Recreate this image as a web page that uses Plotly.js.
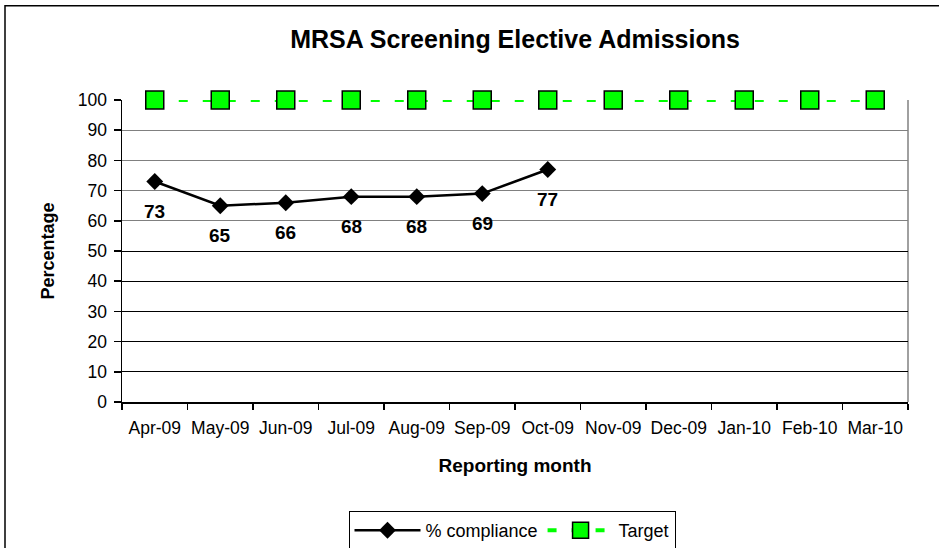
<!DOCTYPE html>
<html>
<head>
<meta charset="utf-8">
<script src="https://cdn.plot.ly/plotly-3.0.1.min.js"></script>
<style>
html,body{margin:0;padding:0;background:#fff;}
#chart{width:939px;height:548px;}
</style>
</head>
<body>
<div id="chart"></div>
<script>
const months = ["Apr-09","May-09","Jun-09","Jul-09","Aug-09","Sep-09","Oct-09","Nov-09","Dec-09","Jan-10","Feb-10","Mar-10"];
const complianceMonths = ["Apr-09","May-09","Jun-09","Jul-09","Aug-09","Sep-09","Oct-09"];
const compliance = [73, 65, 66, 68, 68, 69, 77];
const target = [100,100,100,100,100,100,100,100,100,100,100,100];
const yTicks = [0,10,20,30,40,50,60,70,80,90,100];
const yTicksGray = [60,70,80,90,100];
const yTicksBlack = [10,20,30,40,50];

const FONT = "Arial, 'Liberation Sans', sans-serif";

const traces = [
  {
    x: months, y: target, yaxis: "y2", type: "scatter", mode: "none",
    showlegend: false, hoverinfo: "skip"
  },
  {
    x: months, y: target, yaxis: "y3", type: "scatter", mode: "none",
    showlegend: false, hoverinfo: "skip"
  },
  {
    x: complianceMonths, y: compliance, name: "% compliance",
    type: "scatter", mode: "lines+markers",
    line: {color: "#000000", width: 2.5},
    marker: {symbol: "diamond", size: 13, color: "#000000"},
    cliponaxis: false
  },
  {
    x: months, y: target, name: "Target",
    type: "scatter", mode: "lines+markers",
    line: {color: "#00FF00", width: 4, dash: "9px,15px"},
    marker: {symbol: "square", size: 18, color: "#00FF00", line: {color: "#000000", width: 1.5}},
    cliponaxis: false
  }
];

const annotations = complianceMonths.map((m, i) => ({
  x: m, y: compliance[i], xref: "x", yref: "y",
  text: "<b>" + compliance[i] + "</b>", showarrow: false, yshift: -30,
  font: {family: FONT, size: 19, color: "#000"}
}));

const layout = {
  width: 939, height: 548,
  margin: {l: 122, r: 31, t: 99.5, b: 145.5},
  paper_bgcolor: "#ffffff", plot_bgcolor: "#ffffff",
  font: {family: FONT, size: 17.5, color: "#000"},
  title: {
    text: "<b>MRSA Screening Elective Admissions</b>",
    xref: "paper", yref: "container", x: 0.5, xanchor: "center",
    y: 1 - 39/548, yanchor: "middle",
    font: {family: FONT, size: 25, color: "#000"}
  },
  showlegend: true,
  legend: {
    orientation: "h", xref: "container", yref: "container",
    x: 512/939, xanchor: "center", y: 1 - 511/548, yanchor: "top",
    bordercolor: "#000", borderwidth: 1, bgcolor: "#fff",
    font: {family: FONT, size: 18, color: "#000"},
    itemwidth: 66, traceorder: "normal"
  },
  xaxis: {
    type: "category", categoryarray: months, range: [-0.5, 11.5],
    showgrid: false, showline: true, linecolor: "#000", linewidth: 1.5,
    ticks: "outside", tickson: "boundaries", ticklen: 6, tickcolor: "#000", tickwidth: 1.5,
    ticklabelstandoff: 9, tickangle: 0,
    tickfont: {family: FONT, size: 17.5, color: "#000"},
    zeroline: false,
    title: {text: "<b>Reporting month</b>", font: {family: FONT, size: 19, color: "#000"}, standoff: 22}
  },
  yaxis: {
    range: [0, 100], tickmode: "array", tickvals: yTicks, ticktext: yTicks.map(String),
    showgrid: false, showline: true, linecolor: "#000", linewidth: 1.5,
    ticks: "outside", ticklen: 7, tickcolor: "#000", tickwidth: 1.5,
    tickfont: {family: FONT, size: 17.5, color: "#000"},
    zeroline: false, ticklabelstandoff: 3,
    title: {text: "<b>Percentage</b>", font: {family: FONT, size: 18, color: "#000"}, standoff: 18}
  },
  yaxis2: {
    overlaying: "y", range: [0, 100], tickmode: "array", tickvals: yTicksGray,
    showgrid: true, gridcolor: "#808080", gridwidth: 1,
    showticklabels: false, ticks: "", zeroline: false, showline: false
  },
  yaxis3: {
    overlaying: "y", range: [0, 100], tickmode: "array", tickvals: yTicksBlack,
    showgrid: true, gridcolor: "#000000", gridwidth: 1,
    showticklabels: false, ticks: "", zeroline: false, showline: false
  },
  shapes: [
    {type: "line", xref: "paper", yref: "paper", x0: 1, x1: 1, y0: 0, y1: 1,
     line: {color: "#808080", width: 1.5}, layer: "below"},
    {type: "rect", xref: "paper", yref: "paper",
     x0: -117/786, x1: 1 + 40/786, y0: -200/303, y1: 1 + 94.5/303,
     line: {color: "#000", width: 1.5}, layer: "below"}
  ],
  annotations: annotations
};

Plotly.newPlot("chart", traces, layout, {staticPlot: true, displayModeBar: false});
</script>
</body>
</html>
